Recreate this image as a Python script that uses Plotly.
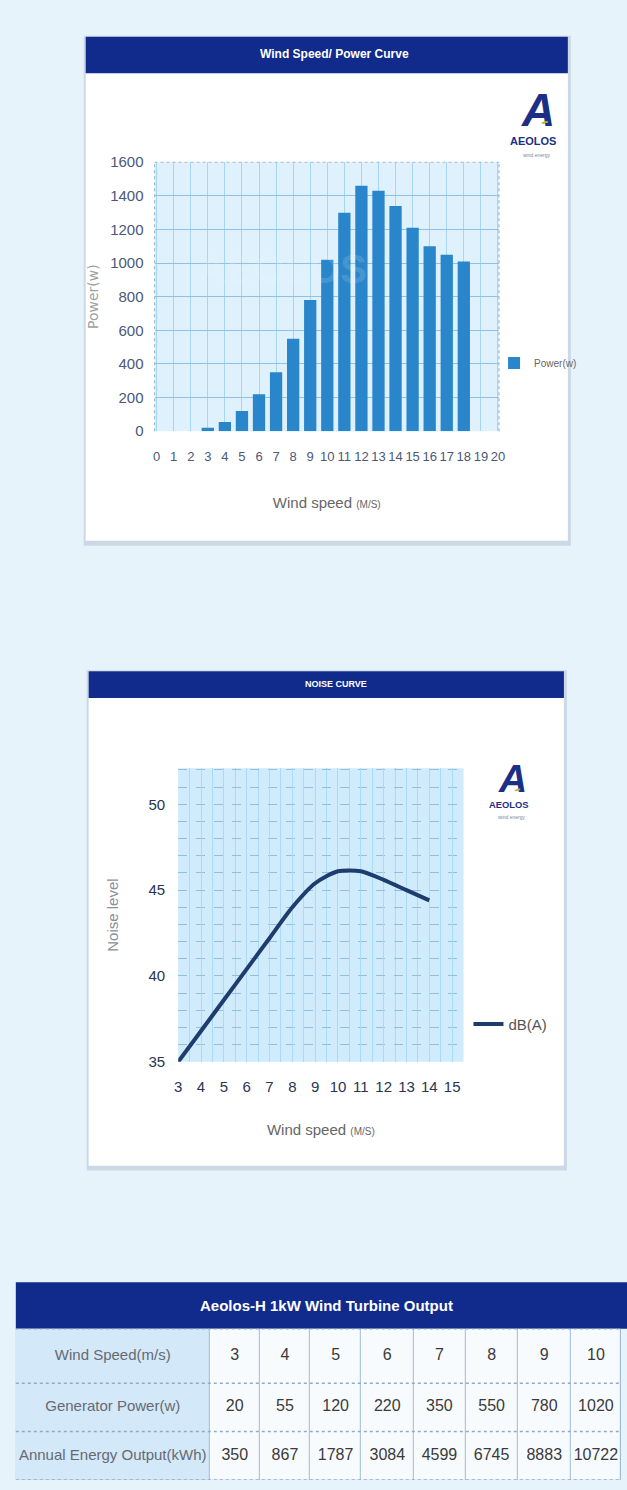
import numpy as np
import plotly.graph_objects as go

W, H = 627, 1490

# ---------------- data ----------------
power_speed = [3, 4, 5, 6, 7, 8, 9, 10, 11, 12, 13, 14, 15, 16, 17, 18]
power_w = [20, 55, 120, 220, 350, 550, 780, 1020, 1300, 1460, 1430, 1340, 1210, 1100, 1050, 1010]
power_yticks = [0, 200, 400, 600, 800, 1000, 1200, 1400, 1600]
power_xticks = list(range(0, 21))

noise_speed = [3, 4, 5, 6, 7, 8, 9, 10, 11, 12, 13, 14]
noise_db = [35.0, 36.8, 38.6, 40.4, 42.2, 44.0, 45.4, 46.1, 46.1, 45.6, 45.0, 44.4]
noise_yticks = [35, 40, 45, 50]
noise_xticks = list(range(3, 16))

table_title = "Aeolos-H 1kW Wind Turbine Output"
row_labels = ["Wind Speed(m/s)", "Generator Power(w)", "Annual Energy Output(kWh)"]
table_speed = [3, 4, 5, 6, 7, 8, 9, 10]
table_power = [20, 55, 120, 220, 350, 550, 780, 1020]
table_energy = [350, 867, 1787, 3084, 4599, 6745, 8883, 10722]

# ---------------- styling / layout constants ----------------
REG = "Liberation Sans, Arial, sans-serif"
NAVY = "#102b8c"
PAGE_BG = "#e6f3fb"

col_w = [197, 51, 51, 52, 53, 53, 53, 54, 51]
row_h = [55, 49, 49]


def px(x):
    return x / W


def py(y):
    return 1 - y / H


fig = go.Figure()

# ---- chart 1: power curve bars ----
fig.add_trace(go.Bar(
    x=power_speed, y=power_w, name="Power(w)", width=0.72,
    marker=dict(color="#2a86ca", line=dict(width=0)),
    xaxis="x", yaxis="y", legend="legend"))

# ---- chart 2: noise curve ----
fig.add_trace(go.Scatter(
    x=noise_speed, y=noise_db, name="dB(A)", mode="lines",
    line=dict(color="#1e3c6e", width=4, shape="spline", smoothing=0.7),
    xaxis="x2", yaxis="y2", legend="legend2"))

# ---- table (cells via heatmap, text via scatter) ----
x_edges = np.concatenate([[0], np.cumsum(col_w)])
y_edges = np.concatenate([[0], np.cumsum(row_h)])
xc = (x_edges[:-1] + x_edges[1:]) / 2
yc = (y_edges[:-1] + y_edges[1:]) / 2
rows = [table_speed, table_power, table_energy]
z = [[1] + [0] * len(table_speed) for _ in rows]
fig.add_trace(go.Heatmap(
    x=x_edges, y=y_edges, z=z, xgap=1, ygap=0,
    colorscale=[[0, "#f8fbfe"], [1, "#d3e8f8"]], showscale=False,
    hoverinfo="skip", xaxis="x3", yaxis="y3"))

tx, ty, tt, tc, ts = [], [], [], [], []
for r, vals in enumerate(rows):
    cells = [row_labels[r]] + [str(v) for v in vals]
    for c, txt in enumerate(cells):
        tx.append(xc[c]); ty.append(yc[r]); tt.append(txt)
        tc.append("#666a72" if c == 0 else "#3a3a3a")
        ts.append(15 if c == 0 else 16)
fig.add_trace(go.Scatter(
    x=tx, y=ty, text=tt, mode="text",
    textfont=dict(color=tc, size=ts, family=REG),
    showlegend=False, hoverinfo="skip", xaxis="x3", yaxis="y3"))

shapes = []
# card shadows and cards
for (x0, y0, x1, y1) in [(83, 28, 573, 538), (86, 670, 569, 1170)]:
    shapes.append(dict(type="rect", xref="paper", yref="paper", layer="below",
                       x0=px(x0 - 2), x1=px(x1 + 3), y0=py(y1 + 5), y1=py(y0 - 1),
                       fillcolor="rgba(150,170,190,0.35)", line=dict(width=0)))
    shapes.append(dict(type="rect", xref="paper", yref="paper", layer="below",
                       x0=px(x0), x1=px(x1), y0=py(y1), y1=py(y0),
                       fillcolor="#ffffff", line=dict(width=0)))
# header bars
for (x0, y0, x1, y1) in [(83, 28, 573, 65), (86, 670, 569, 697), (12, 1288, 640, 1335)]:
    shapes.append(dict(type="rect", xref="paper", yref="paper", layer="below",
                       x0=px(x0), x1=px(x1), y0=py(y1), y1=py(y0),
                       fillcolor=NAVY, line=dict(width=0)))
# plot backgrounds
shapes.append(dict(type="rect", xref="x domain", yref="y domain", layer="below",
                   x0=0, x1=1, y0=0, y1=1, fillcolor="#def1fc", line=dict(width=0)))
shapes.append(dict(type="rect", xref="x2 domain", yref="y2 domain", layer="below",
                   x0=0, x1=1, y0=0, y1=1, fillcolor="#d0ebfb", line=dict(width=0)))
# dotted borders on chart 1 (top / right / left)
for (x0, y0, x1, y1) in [(0, 1, 1, 1), (1, 0, 1, 1), (0, 0, 0, 1)]:
    shapes.append(dict(type="line", xref="x domain", yref="y domain", layer="above",
                       x0=x0, x1=x1, y0=y0, y1=y1,
                       line=dict(color="#9fb9cf", width=1.2, dash="dot")))
# table grid background (shows through the gaps) and dashed row separators
shapes.append(dict(type="rect", xref="x3 domain", yref="y3 domain", layer="below",
                   x0=0, x1=1, y0=0, y1=1, fillcolor="#9fbcd3", line=dict(width=0)))
for ye in y_edges:
    shapes.append(dict(type="line", xref="x3 domain", yref="y3", layer="above",
                       x0=0, x1=1, y0=ye, y1=ye,
                       line=dict(color="#93aac2", width=1.5, dash="dot")))

annotations = []


def ann(text, x, y, size, color, family=REG, **kw):
    annotations.append(dict(text=text, x=px(x), y=py(y), xref="paper", yref="paper",
                            xanchor="center", yanchor="middle",
                            showarrow=False, font=dict(size=size, color=color, family=family), **kw))


ann("<b>Wind Speed/ Power Curve</b>", 336, 46, 12, "#ffffff")
ann("<b>NOISE CURVE</b>", 337, 683, 9, "#ffffff")
ann("<b>" + table_title + "</b>", 328, 1311, 15, "#ffffff")

# logos
for (cx, cy, s) in [(543, 102, 1.0), (517, 778, 0.85)]:
    ann("<b><i>A</i></b>", cx, cy, 46 * s, "#1b2f86")
    ann("<b>━</b>", cx + 6 * s, cy + 13 * s, 9 * s, "#8cc63f", textangle=-15)
    ann("<b>AEOLOS</b>", cx - 5 * s, cy + 32 * s, 11 * s, "#1b2f86")
    ann("wind energy", cx - 2 * s, cy + 46 * s, 5, "#7a8aa0")

# faint watermark
ann("<b>AEOLOS</b>", 283, 263, 40, "rgba(255,255,255,0.14)")

tickfont1 = dict(family=REG, size=13, color="#4b5878")
tickfont2 = dict(family=REG, size=15, color="#2a3452")

fig.update_layout(
    width=W, height=H, margin=dict(l=0, r=0, t=0, b=0),
    paper_bgcolor=PAGE_BG, plot_bgcolor="rgba(0,0,0,0)",
    shapes=shapes, annotations=annotations,
    xaxis=dict(domain=[px(153), px(503)], anchor="y", range=[-0.12, 20.06],
               tickmode="array", tickvals=power_xticks, ticks="", showgrid=True,
               gridcolor="#a6d6f3", gridwidth=1, zeroline=False, showline=False,
               tickangle=0, tickfont=tickfont1, ticklabelstandoff=16,
               title=dict(text="Wind speed <span style='font-size:10px'>(M/S)</span>",
                          font=dict(family=REG, size=15, color="#666666"), standoff=34)),
    yaxis=dict(domain=[py(427), py(155)], anchor="x", range=[0, 1600],
               tickmode="array", tickvals=power_yticks, ticks="", showgrid=True,
               gridcolor="#8fc3e6", gridwidth=1.2, zeroline=False, showline=False,
               tickfont=dict(family=REG, size=15, color="#4b5878"), ticklabelstandoff=10,
               title=dict(text="Power(w)", font=dict(family="DejaVu Sans", size=14, color="#a0a0a0"),
                          standoff=8)),
    xaxis2=dict(domain=[px(177), px(467)], anchor="y2", range=[3, 15.5],
                tickmode="array", tickvals=noise_xticks, ticks="", showgrid=True,
                gridcolor="#a9daf6", gridwidth=1.2, zeroline=False, showline=False,
                minor=dict(dtick=0.5, showgrid=True, gridcolor="#a9daf6", gridwidth=1.2),
                tickangle=0, tickfont=tickfont2, ticklabelstandoff=14,
                title=dict(text="Wind speed <span style='font-size:10px'>(M/S)</span>",
                           font=dict(family=REG, size=15, color="#666666"), standoff=30)),
    yaxis2=dict(domain=[py(1065), py(768)], anchor="x2", range=[35, 52.1],
                tickmode="array", tickvals=noise_yticks, ticks="", showgrid=True,
                gridcolor="#8fc0e2", gridwidth=1, griddash="dash", zeroline=False, showline=False,
                minor=dict(dtick=1, showgrid=True, gridcolor="#8fc0e2", gridwidth=1, griddash="dash"),
                tickfont=tickfont2, ticklabelstandoff=12,
                title=dict(text="Noise level", font=dict(family=REG, size=15, color="#8a8f99"),
                           standoff=26)),
    xaxis3=dict(domain=[px(12), 1], anchor="y3", range=[0, float(x_edges[-1])], visible=False),
    yaxis3=dict(domain=[py(1488), py(1335)], anchor="x3", range=[float(y_edges[-1]), 0], visible=False),
    legend=dict(x=px(498), y=py(358), xanchor="left", yanchor="middle",
                bgcolor="rgba(0,0,0,0)", font=dict(family=REG, size=10, color="#666666")),
    legend2=dict(x=px(472), y=py(1027), xanchor="left", yanchor="middle",
                 bgcolor="rgba(0,0,0,0)", font=dict(family=REG, size=15, color="#555555")),
)

fig.write_html(
    "out.html",
    config={"displayModeBar": False},
    post_script=("document.body.style.margin='0';document.body.style.padding='0';"
                 "document.body.style.overflow='hidden';"
                 "document.documentElement.style.overflow='hidden';"),
)
